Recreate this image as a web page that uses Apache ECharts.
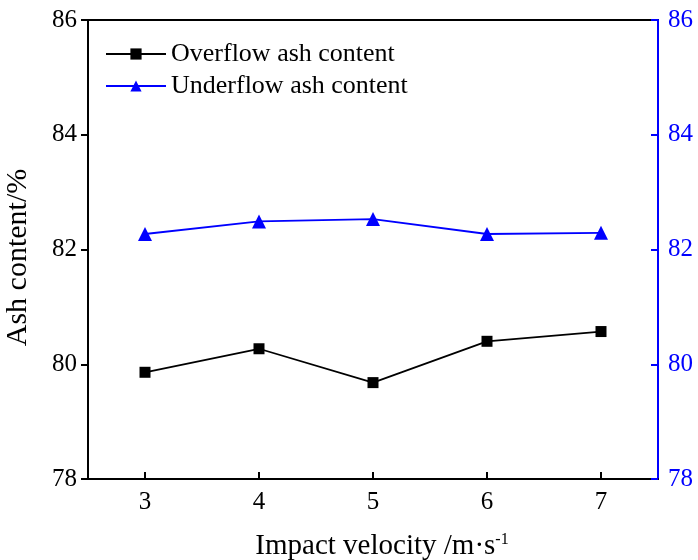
<!DOCTYPE html>
<html>
<head>
<meta charset="utf-8">
<script src="https://cdn.jsdelivr.net/npm/echarts@6/dist/echarts.min.js"></script>
<style>html,body{margin:0;padding:0;background:#fff}#c{width:698px;height:560px}</style>
</head>
<body>
<div id="c"></div>
<script>
const categories = ['3', '4', '5', '6', '7'];
const velocities = [3, 4, 5, 6, 7];
const overflowAsh = [79.86, 80.27, 79.68, 80.40, 80.57];
const underflowAsh = [82.27, 82.49, 82.53, 82.27, 82.29];
const yTicks = [78, 80, 82, 84, 86];

const font = 'Liberation Serif';
const chart = echarts.init(document.getElementById('c'));
chart.setOption({
  backgroundColor: '#fff',
  animation: false,
  textStyle: { fontFamily: font },
  grid: { left: 88, right: 40, top: 20, bottom: 81, outerBoundsMode: 'none', containLabel: false, show: true, borderColor: '#000', borderWidth: 2, backgroundColor: 'transparent' },
  legend: {
    left: 100, top: 36, orient: 'vertical', itemGap: 6,
    itemWidth: 60, itemHeight: 14,
    textStyle: { fontFamily: font, fontSize: 26, color: '#000' },
    data: ['Overflow ash content', 'Underflow ash content']
  },
  xAxis: {
    type: 'value', min: 2.5, max: 7.5, interval: 0.5,
    name: '{a|Impact velocity /m·s}{s|-1}', nameLocation: 'middle', nameGap: 53,
    nameTextStyle: { padding: [0, 0, 0, 18], rich: { a: { fontFamily: font, fontSize: 29, color: '#000' }, s: { fontFamily: font, fontSize: 16, color: '#000', verticalAlign: 'top', padding: [0, 0, 12, 0] } } },
    axisLine: { lineStyle: { color: '#000', width: 2 } },
    axisTick: { inside: true, length: 7, lineStyle: { width: 2, color: '#000' }, customValues: velocities },
    axisLabel: { fontFamily: font, fontSize: 25, color: '#000', margin: 11, customValues: velocities },
    splitLine: { show: false }
  },
  yAxis: [
    {
      type: 'value', min: yTicks[0], max: yTicks[yTicks.length - 1], interval: 2,
      name: 'Ash content/%', nameLocation: 'middle', nameGap: 55,
      nameTextStyle: { fontFamily: font, fontSize: 30, color: '#000', padding: [0, 16, 0, 0] },
      axisLine: { show: true, lineStyle: { color: '#000', width: 2 } },
      axisTick: { show: true, inside: false, length: 7, lineStyle: { width: 2, color: '#000' } },
      axisLabel: { fontFamily: font, fontSize: 25, color: '#000', margin: 11 },
      splitLine: { show: false }
    },
    {
      type: 'value', min: yTicks[0], max: yTicks[yTicks.length - 1], interval: 2, position: 'right',
      axisLine: { show: true, lineStyle: { color: '#0000ff', width: 2 } },
      axisTick: { show: true, inside: true, length: 7, lineStyle: { width: 2, color: '#0000ff' } },
      axisLabel: { fontFamily: font, fontSize: 25, color: '#0000ff', margin: 10 },
      splitLine: { show: false }
    }
  ],
  series: [
    {
      name: 'Overflow ash content', type: 'line', yAxisIndex: 0,
      data: velocities.map((v, i) => [v, overflowAsh[i]]),
      symbol: 'rect', symbolSize: 11,
      lineStyle: { color: '#000', width: 1.8 },
      itemStyle: { color: '#000' }
    },
    {
      name: 'Underflow ash content', type: 'line', yAxisIndex: 1,
      data: velocities.map((v, i) => [v, underflowAsh[i]]),
      symbol: 'triangle', symbolSize: 14,
      lineStyle: { color: '#0000ff', width: 1.8 },
      itemStyle: { color: '#0000ff' }
    }
  ]
});
</script>
</body>
</html>
